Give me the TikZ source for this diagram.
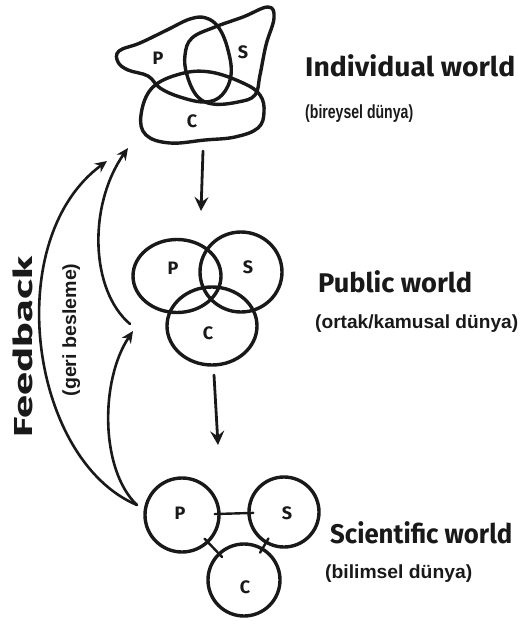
\documentclass[tikz,border=0pt]{standalone}
\usepackage{fontspec}
\setmainfont{Liberation Sans}
\newfontfamily\markerfont{Fira Sans}
\usetikzlibrary{arrows.meta,shapes.geometric}
% set a text to a given width, keeping its natural height
\newcommand{\fitw}[2]{\resizebox{#1}{\height}{#2}}
\begin{document}
\begin{tikzpicture}[x=1pt,y=-1pt,
  ink/.style={draw=black!90, line width=3.4pt, line join=round, line cap=round},
  ring/.style={ink, circle, minimum size=#1, inner sep=0pt},
  letter/.style={font=\markerfont\bfseries\fontsize{18}{18}\selectfont, inner sep=0pt, text=black!90},
  title/.style={font=\markerfont\bfseries\fontsize{27}{27}\selectfont, anchor=base west, inner sep=0pt, text=black!90},
  gloss/.style={font=\bfseries\fontsize{19}{19}\selectfont, anchor=base west, inner sep=0pt, text=black!90},
  flow/.style={ink, line width=2.8pt, -{Stealth[length=14pt,width=14pt,inset=5pt]}},
  back/.style={ink, line width=2.6pt, -{Stealth[length=12pt,width=11pt,inset=4pt]}}]
\useasboundingbox (0,0) rectangle (522,626);

% individual world: three irregular overlapping blobs
\draw[ink] plot[smooth cycle, tension=0.65] coordinates {(119,51) (140,43) (167,30) (190,19) (206,18) (219,28) (228,50) (231,75) (222,95) (205,102) (180,97) (160,88) (148,76) (128,70) (118,62)};
\draw[ink] plot[smooth cycle, tension=0.65] coordinates {(268,7) (274,18) (266,45) (260,75) (255,95) (238,102) (213,104) (197,96) (187,75) (185,55) (192,38) (215,27) (243,17)};
\draw[ink] plot[smooth cycle, tension=0.65] coordinates {(152,88) (180,74) (210,72) (243,83) (260,95) (264,112) (258,128) (235,137) (205,140) (170,143) (146,135) (141,115)};
\node[letter] (p1) at (158,58) {P};
\node[letter] (s1) at (243,52) {S};
\node[letter] (c1) at (192,121) {C};
\coordinate (ind) at (203,151);

% public world: three overlapping rounded circles
\node[ink, ellipse, minimum width=88pt, minimum height=73pt, inner sep=0pt] (p2) at (177,276) {};
\node[ink, ellipse, minimum width=82pt, minimum height=80pt, inner sep=0pt] (s2) at (241,272) {};
\node[ink, ellipse, minimum width=90pt, minimum height=78pt, inner sep=0pt] (c2) at (212,326) {};
\node[letter] (p2l) at (173,268) {P};
\node[letter] (s2l) at (248,267) {S};
\node[letter] (c2l) at (208,333) {C};
\coordinate (pubtop) at (201,211);
\coordinate (pubbot) at (214,375);

% scientific world: three separate circles linked by lines
\node[ring=74pt] (p3) at (182,515) {};
\node[ring=70pt] (s3) at (284,512) {};
\node[ring=72pt] (c3) at (244,580) {};
\node[letter] (p3l) at (180,513) {P};
\node[letter] (s3l) at (287,513) {S};
\node[letter] (c3l) at (245,587) {C};
\coordinate (scitop) at (218,445);
\draw[ink, line width=2.4pt, shorten <=-6pt, shorten >=-6pt] (p3) -- (s3);
\draw[ink, line width=2.4pt, shorten <=-6pt, shorten >=-6pt] (p3) -- (c3);
\draw[ink, line width=2.4pt, shorten <=-6pt, shorten >=-6pt] (s3) -- (c3);

% downward flow between the worlds
\draw[flow] (ind) -- (pubtop);
\draw[flow] (pubbot) -- (scitop);

% feedback arrows
\coordinate (fbfoot) at (137,505);
\coordinate (fbtop1) at (107,161);
\coordinate (fbtop2) at (128,148);
\coordinate (fbmid1) at (130,324);
\coordinate (fbmid2) at (133,331);
\draw[back] (fbfoot) .. controls (30,460) and (0,240) .. (fbtop1);
\draw[back] (fbmid1) .. controls (90,290) and (88,205) .. (fbtop2);
\draw[back] (fbfoot) .. controls (100,470) and (100,380) .. (fbmid2);

% labels
\node[title] (t1) at (305,77) {\fitw{210pt}{Individual world}};
\node[gloss] (g1) at (305,118) {\fitw{108pt}{(bireysel dünya)}};
\node[title] (t2) at (318,292) {\fitw{154pt}{Public world}};
\node[gloss] (g2) at (315,328) {\fitw{203pt}{(ortak/kamusal dünya)}};
\node[title] (t3) at (330,543) {\fitw{182pt}{Scientific world}};
\node[gloss] (g3) at (325,578) {\fitw{147pt}{(bilimsel dünya)}};
\node[font=\markerfont\bfseries\fontsize{26}{26}\selectfont, rotate=90, anchor=base, inner sep=0pt, text=black!90] (fb) at (32,347) {\fitw{180pt}{Feedback}};
\node[font=\bfseries\fontsize{19}{19}\selectfont, rotate=90, anchor=base, inner sep=0pt, text=black!90] (gb) at (76,330) {\fitw{133pt}{(geri besleme)}};
\end{tikzpicture}
\end{document}
